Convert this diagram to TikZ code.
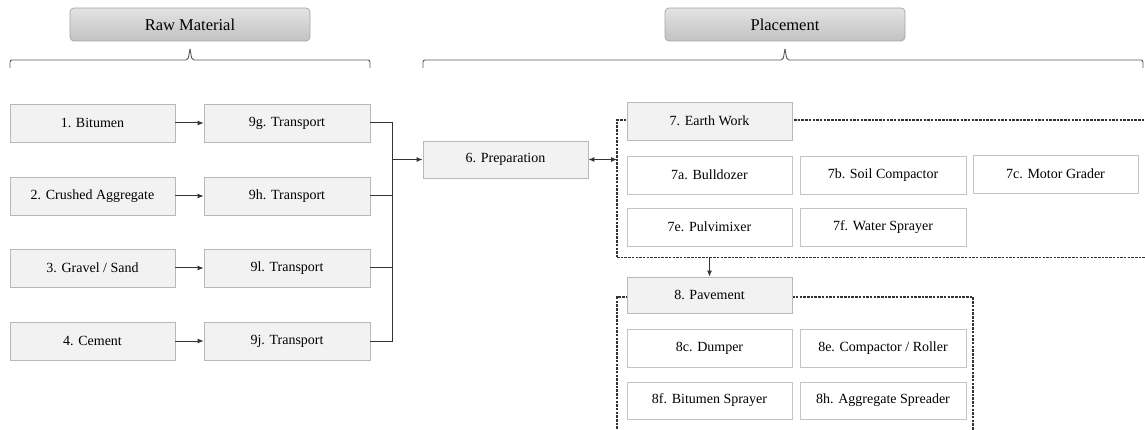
\documentclass[tikz,border=0pt]{standalone}
\usepackage{fontspec}
\setmainfont{Liberation Serif}
\usetikzlibrary{arrows.meta}
\definecolor{linec}{HTML}{333333}
\definecolor{boxfill}{HTML}{F2F2F2}
\definecolor{boxline}{HTML}{B8B8B8}
\definecolor{wline}{HTML}{C4C4C4}
\definecolor{hdline}{HTML}{A4A4A4}
\definecolor{bracec}{HTML}{5A5A5A}
\tikzset{
  graybox/.style={draw=boxline, fill=boxfill, line width=0.8pt, inner sep=0pt,
    minimum width=165pt, minimum height=38pt, font=\fontsize{14}{16}\selectfont},
  whitebox/.style={draw=wline, fill=white, line width=0.8pt, inner sep=0pt,
    minimum width=165pt, minimum height=38pt, font=\fontsize{14}{16}\selectfont},
  header/.style={draw=hdline, top color=black!11, bottom color=black!24, rounded corners=4pt,
    line width=0.7pt, inner sep=0pt, minimum width=240pt, minimum height=33pt,
    font=\fontsize{16.5}{18}\selectfont},
  conn/.style={draw=linec, line width=1pt},
  arr/.style={conn, -{Latex[length=6pt,width=5pt]}},
  dbl/.style={conn, {Latex[length=6pt,width=5pt]}-{Latex[length=6pt,width=5pt]}},
  group/.style={draw=linec, line width=1.1pt, dash pattern=on 2.5pt off 1.2pt},
  bracel/.style={draw=bracec, line width=0.9pt, rounded corners=2pt},
}
\begin{document}
\begin{tikzpicture}[x=1pt, y=-1pt]
\useasboundingbox (0,0) rectangle (1145,430);

% section headers
\node[header] (hraw) at (190,24.5) {Raw Material};
\node[header] (hplace) at (785,24.5) {Placement};

% braces under the headers
\draw[bracel] (10,68) -- (10,60) -- (188,60) -- (190,49);
\draw[bracel] (190,49) -- (192,60) -- (370,60) -- (370,68);
\draw[bracel] (423,68) -- (423,60) -- (783,60) -- (785,49);
\draw[bracel] (785,49) -- (787,60) -- (1143,60) -- (1143,68);

% dashed groups
\draw[group] (617,257.5) -- (617,120) -- (1150,120);
\draw[group] (617,257.5) -- (1150,257.5);
\draw[group] (617,440) -- (617,297) -- (973,297) -- (973,440);

% raw materials
\node[graybox] (m1) at (92.5,123) {1. Bitumen};
\node[graybox] (m2) at (92.5,196) {2. Crushed Aggregate};
\node[graybox] (m3) at (92.5,268) {3. Gravel / Sand};
\node[graybox] (m4) at (92.5,341) {4. Cement};

% transports
\node[graybox, minimum width=166pt] (t1) at (287,123) {9g. Transport};
\node[graybox, minimum width=166pt] (t2) at (287,196) {9h. Transport};
\node[graybox, minimum width=166pt] (t3) at (287,268) {9l. Transport};
\node[graybox, minimum width=166pt] (t4) at (287,341) {9j. Transport};

% preparation
\node[graybox, minimum height=37pt] (prep) at (505.5,159.5) {6. Preparation};

% earth work
\node[graybox] (ew) at (709.5,121) {7. Earth Work};
\node[whitebox] (e7a) at (709.5,175) {7a. Bulldozer};
\node[whitebox, minimum width=166pt] (e7b) at (883,175) {7b. Soil Compactor};
\node[whitebox] (e7c) at (1055.5,174) {7c. Motor Grader};
\node[whitebox] (e7e) at (709.5,227) {7e. Pulvimixer};
\node[whitebox, minimum width=166pt] (e7f) at (883,227) {7f. Water Sprayer};

% pavement
\node[graybox, minimum height=36pt] (pav) at (709.5,295) {8. Pavement};
\node[whitebox] (p8c) at (709.5,348) {8c. Dumper};
\node[whitebox, minimum width=166pt] (p8e) at (883,348) {8e. Compactor / Roller};
\node[whitebox, minimum height=37pt] (p8f) at (709.5,400.5) {8f. Bitumen Sprayer};
\node[whitebox, minimum width=166pt, minimum height=37pt] (p8h) at (883,400.5) {8h. Aggregate Spreader};

% connectors
\coordinate (join) at (392,159.5);
\coordinate (ewin) at (617,159.5);
\coordinate (ewout) at (709.5,257.5);

\draw[arr] (m1) -- (t1);
\draw[arr] (m2) -- (t2);
\draw[arr] (m3) -- (t3);
\draw[arr] (m4) -- (t4);
\draw[conn] (t1.east) -| (join);
\draw[conn] (t2.east) -| (join);
\draw[conn] (t3.east) -| (join);
\draw[conn] (t4.east) -| (join);
\draw[arr] (join) -- (prep.west);
\draw[dbl] (prep.east) -- (ewin);
\draw[arr] (ewout) -- (pav.north);
\end{tikzpicture}
\end{document}
